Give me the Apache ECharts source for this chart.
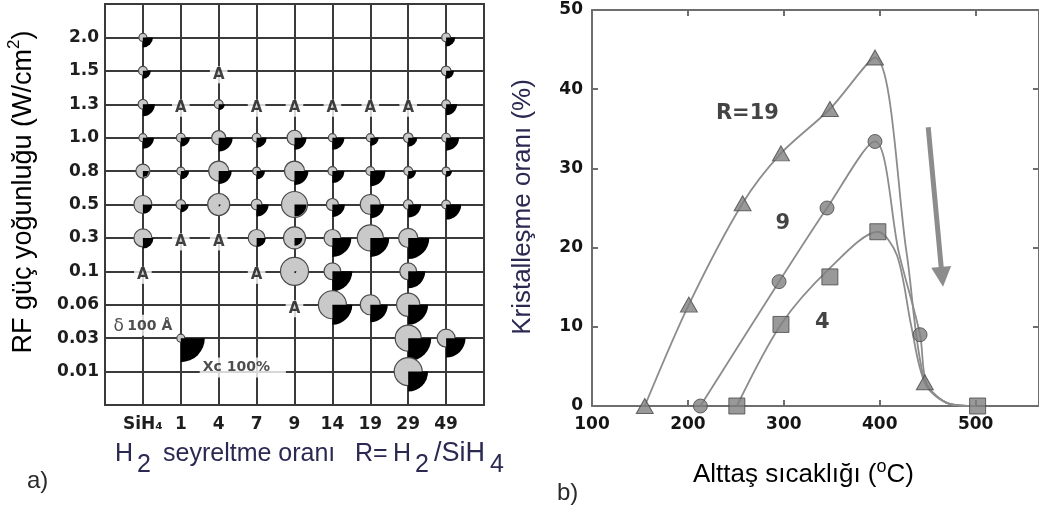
<!DOCTYPE html>
<html>
<head>
<meta charset="utf-8">
<script src="https://cdn.jsdelivr.net/npm/echarts@6/dist/echarts.min.js"></script>
<style>
  html, body { margin: 0; padding: 0; background: #fff; }
  #chart { width: 1039px; height: 508px; }
</style>
</head>
<body>
<div id="chart"></div>
<script>
// ---------- Panel a): phase map over H2 dilution ratio and RF power density ----------
const ratioLabels = ['SiH₄', '1', '4', '7', '9', '14', '19', '29', '49'];
const powerLabels = ['0.01', '0.03', '0.06', '0.1', '0.3', '0.5', '0.8', '1.0', '1.3', '1.5', '2.0'];

// [R, power density, grain size δ (Å), crystalline fraction Xc (%)]
const filmPoints = [
  ['SiH₄', '2.0', 100, 42], ['49', '2.0', 110, 38],
  ['SiH₄', '1.5', 110, 33], ['49', '1.5', 120, 33],
  ['SiH₄', '1.3', 120, 50], ['4', '1.3', 110, 25], ['49', '1.3', 110, 46],
  ['SiH₄', '1.0', 100, 46], ['1', '1.0', 110, 38], ['4', '1.0', 175, 58], ['7', '1.0', 110, 42],
  ['9', '1.0', 185, 50], ['14', '1.0', 100, 50], ['19', '1.0', 100, 35], ['29', '1.0', 120, 38], ['49', '1.0', 110, 54],
  ['SiH₄', '0.8', 175, 25], ['1', '0.8', 100, 35], ['4', '0.8', 250, 54], ['7', '0.8', 100, 35],
  ['9', '0.8', 250, 58], ['14', '0.8', 110, 50], ['19', '0.8', 110, 63], ['29', '0.8', 110, 33], ['49', '0.8', 100, 25],
  ['SiH₄', '0.5', 225, 38], ['1', '0.5', 120, 33], ['4', '0.5', 275, 8], ['7', '0.5', 135, 50],
  ['9', '0.5', 325, 50], ['14', '0.5', 150, 52], ['19', '0.5', 250, 58], ['29', '0.5', 120, 54], ['49', '0.5', 110, 63],
  ['SiH₄', '0.3', 225, 44], ['7', '0.3', 210, 38], ['9', '0.3', 275, 33], ['14', '0.3', 210, 79],
  ['19', '0.3', 325, 79], ['29', '0.3', 240, 88],
  ['9', '0.1', 350, 8], ['14', '0.1', 210, 83], ['29', '0.1', 210, 71],
  ['14', '0.06', 350, 83], ['19', '0.06', 250, 73], ['29', '0.06', 290, 83],
  ['1', '0.03', 100, 100], ['29', '0.03', 325, 96], ['49', '0.03', 225, 81],
  ['29', '0.01', 350, 83]
];

// Amorphous films (marked "A")
const amorphousPoints = [
  ['4', '1.5'], ['1', '1.3'], ['7', '1.3'], ['9', '1.3'], ['14', '1.3'], ['19', '1.3'], ['29', '1.3'],
  ['1', '0.3'], ['4', '0.3'], ['SiH₄', '0.1'], ['7', '0.1'], ['9', '0.06']
];

// ---------- Panel b): crystalline fraction vs substrate temperature ----------
const r19Markers = [[155, 0], [201, 12.8], [257, 25.6], [297, 31.9], [348, 37.5], [395, 44], [447, 3]];
const r9Markers  = [[213, 0], [295, 15.7], [345, 25], [395, 33.4], [442, 9]];
const r4Markers  = [[251, 0], [297, 10.3], [348, 16.3], [398, 22], [502, 0]];

const r19Curve = [[155, 0], [201, 12.8], [257, 25.6], [297, 31.9], [348, 37.5], [395, 44], [428, 19.3], [447, 3], [472, 0.3], [500, 0]];
const r9Curve  = [[213, 0], [295, 15.7], [345, 25], [395, 33.4], [420, 19.3], [442, 9], [449, 2.8], [472, 0.3], [500, 0]];
const r4Curve  = [[251, 0], [297, 10.3], [348, 17.4], [398, 22], [418, 19], [433, 10], [447, 3], [472, 0.3], [500, 0]];

const tempTicks = [100, 200, 300, 400, 500];

// ---------- shared styles ----------
const TITLE_COLOR = '#2b2952';
const TITLE_FONT = '"Liberation Sans", Arial, sans-serif';
const TICK_FONT = '"DejaVu Sans", sans-serif';
const GRID_COLOR = '#3a3a3a';
const AXIS_GRAY = '#6e6e6e';
const LINE_GRAY = '#8c8c8c';
const MARK_FILL = '#808080';
const MARK_EDGE = '#474747';

const colIndex = r => ratioLabels.indexOf(r) + 1;
const rowIndex = p => powerLabels.indexOf(p) + 1;

// plain text piece used to compose titles with sub/superscripts
const piece = (text, x, y, size) => ({
  type: 'text', x: x, y: y, silent: true,
  style: { text: text, align: 'left', verticalAlign: 'middle', font: size + 'px ' + TITLE_FONT, fill: TITLE_COLOR }
});

const chart = echarts.init(document.getElementById('chart'), null, { renderer: 'canvas' });

const option = {
  animation: false,
  backgroundColor: '#fff',
  grid: [
    { left: 105, top: 4, width: 379, height: 401, show: true, borderColor: GRID_COLOR, borderWidth: 2, backgroundColor: '#fff' },
    { left: 592, top: 10, right: -5, height: 396 }
  ],
  xAxis: [
    {
      gridIndex: 0, type: 'value', min: 0, max: 10, interval: 1,
      axisLine: { show: false }, axisTick: { show: false },
      splitLine: { show: true, lineStyle: { color: GRID_COLOR, width: 2 } },
      axisLabel: {
        margin: 11, color: '#1e1e1e', fontFamily: TICK_FONT, fontWeight: 'bold', fontSize: 17,
        formatter: v => ratioLabels[v - 1] || ''
      }
    },
    {
      gridIndex: 1, type: 'value', min: 100, max: 566, interval: 100,
      axisLine: { show: true, onZero: false, lineStyle: { color: AXIS_GRAY, width: 2 } },
      axisTick: { show: true, inside: true, length: 6, lineStyle: { color: AXIS_GRAY, width: 2 } },
      splitLine: { show: false },
      axisLabel: {
        showMaxLabel: false, margin: 10, color: '#151515',
        fontFamily: TICK_FONT, fontWeight: 'bold', fontSize: 17,
        formatter: v => tempTicks.indexOf(v) >= 0 ? String(v) : ''
      }
    },
    {
      gridIndex: 1, type: 'value', position: 'top', min: 100, max: 566, interval: 100,
      axisLine: { show: true, onZero: false, lineStyle: { color: AXIS_GRAY, width: 2 } },
      axisTick: { show: true, inside: true, length: 6, lineStyle: { color: AXIS_GRAY, width: 2 } },
      splitLine: { show: false }, axisLabel: { show: false }
    }
  ],
  yAxis: [
    {
      gridIndex: 0, type: 'value', min: 0, max: 12, interval: 1,
      axisLine: { show: false }, axisTick: { show: false },
      splitLine: { show: true, lineStyle: { color: GRID_COLOR, width: 2 } },
      axisLabel: {
        margin: 6, color: '#1e1e1e', fontFamily: TICK_FONT, fontWeight: 'bold', fontSize: 17,
        formatter: v => powerLabels[v - 1] || ''
      }
    },
    {
      gridIndex: 1, type: 'value', min: 0, max: 50, interval: 10,
      axisLine: { show: true, onZero: false, lineStyle: { color: AXIS_GRAY, width: 2 } },
      axisTick: { show: true, inside: true, length: 6, lineStyle: { color: AXIS_GRAY, width: 2 } },
      splitLine: { show: false },
      axisLabel: { margin: 9, color: '#151515', fontFamily: TICK_FONT, fontWeight: 'bold', fontSize: 17 }
    },
    {
      gridIndex: 1, type: 'value', position: 'right', min: 0, max: 50, interval: 10,
      axisLine: { show: true, onZero: false, lineStyle: { color: AXIS_GRAY, width: 2 } },
      axisTick: { show: true, inside: true, length: 6, lineStyle: { color: AXIS_GRAY, width: 2 } },
      splitLine: { show: false }, axisLabel: { show: false }
    }
  ],
  series: [
    // grain-size circles with crystalline-fraction quarter discs
    {
      type: 'custom', xAxisIndex: 0, yAxisIndex: 0, silent: true, z: 3,
      data: filmPoints.map(p => [colIndex(p[0]), rowIndex(p[1]), p[2], p[3]]),
      renderItem: (params, api) => {
        const c = api.coord([api.value(0), api.value(1)]);
        const rGrain = api.value(2) / 100 * 4;
        const rXc = api.value(3) / 100 * 24;
        return {
          type: 'group',
          children: [
            { type: 'circle', shape: { cx: c[0], cy: c[1], r: rGrain },
              style: { fill: '#c9c9c9', stroke: '#4a4a4a', lineWidth: 1.2 } },
            { type: 'sector', shape: { cx: c[0], cy: c[1], r0: 0, r: rXc, startAngle: 0, endAngle: Math.PI / 2, clockwise: true },
              style: { fill: '#000' } }
          ]
        };
      }
    },
    // amorphous markers
    {
      type: 'scatter', xAxisIndex: 0, yAxisIndex: 0, silent: true, z: 4,
      symbol: 'circle', symbolSize: 1, itemStyle: { color: 'rgba(0,0,0,0)' },
      data: amorphousPoints.map(p => [colIndex(p[0]), rowIndex(p[1])]),
      label: {
        show: true, position: 'inside', offset: [0, 4], formatter: 'A',
        fontFamily: TICK_FONT, fontWeight: 'bold', fontSize: 15, color: '#111',
        backgroundColor: '#fff', padding: [1, 3, 1, 3]
      }
    },
    // size/fraction key beside the reference point
    {
      type: 'scatter', xAxisIndex: 0, yAxisIndex: 0, silent: true, z: 4,
      symbol: 'circle', symbolSize: 1, itemStyle: { color: 'rgba(0,0,0,0)' },
      data: [
        { value: [colIndex('SiH₄'), rowIndex('0.03')],
          label: { formatter: '{d|δ} {b|100 Å}', offset: [0, -13], padding: [3, 5, 1, 5] } },
        { value: [colIndex('4'), rowIndex('0.01')],
          label: { formatter: '{b|Xc 100%}', position: 'inside', align: 'left', offset: [-19, -4], padding: [3, 16, 3, 3] } }
      ],
      label: {
        show: true, position: 'inside', backgroundColor: '#fff',
        rich: {
          d: { fontFamily: TICK_FONT, fontSize: 17, color: '#222' },
          b: { fontFamily: TICK_FONT, fontWeight: 'bold', fontSize: 14, color: '#222' }
        }
      }
    },

    // ----- panel b curves -----
    {
      type: 'line', xAxisIndex: 1, yAxisIndex: 1, silent: true, z: 2,
      data: r19Curve, showSymbol: false, smooth: 0.3,
      lineStyle: { color: LINE_GRAY, width: 1.8 }
    },
    {
      type: 'line', xAxisIndex: 1, yAxisIndex: 1, silent: true, z: 2,
      data: r9Curve, showSymbol: false, smooth: 0.3,
      lineStyle: { color: LINE_GRAY, width: 1.8 }
    },
    {
      type: 'line', xAxisIndex: 1, yAxisIndex: 1, silent: true, z: 2,
      data: r4Curve, showSymbol: false, smooth: 0.3,
      lineStyle: { color: LINE_GRAY, width: 1.8 },
      markLine: {
        silent: true, symbol: ['none', 'triangle'], symbolSize: 20,
        label: { show: false },
        lineStyle: { color: LINE_GRAY, width: 5, type: 'solid' },
        data: [[{ coord: [450.5, 35.2] }, { coord: [465, 16.3] }]]
      }
    },
    {
      type: 'scatter', xAxisIndex: 1, yAxisIndex: 1, silent: true, z: 5,
      data: r19Markers, symbol: 'triangle', symbolSize: [17, 15],
      itemStyle: { color: MARK_FILL, borderColor: MARK_EDGE, borderWidth: 1 }
    },
    {
      type: 'scatter', xAxisIndex: 1, yAxisIndex: 1, silent: true, z: 5,
      data: r9Markers, symbol: 'circle', symbolSize: 14,
      itemStyle: { color: MARK_FILL, borderColor: MARK_EDGE, borderWidth: 1 }
    },
    {
      type: 'scatter', xAxisIndex: 1, yAxisIndex: 1, silent: true, z: 5,
      data: r4Markers, symbol: 'rect', symbolSize: 16,
      itemStyle: { color: MARK_FILL, borderColor: MARK_EDGE, borderWidth: 1 }
    },
    // series names written next to the curves
    {
      type: 'scatter', xAxisIndex: 1, yAxisIndex: 1, silent: true, z: 6,
      symbol: 'circle', symbolSize: 1, itemStyle: { color: 'rgba(0,0,0,0)' },
      data: [
        { value: [262, 36.9], label: { formatter: 'R=19' } },
        { value: [299, 23.1], label: { formatter: '9' } },
        { value: [340, 10.6], label: { formatter: '4' } }
      ],
      label: { show: true, position: 'inside', fontFamily: TICK_FONT, fontWeight: 'bold', fontSize: 21, color: '#151515' }
    }
  ],
  graphic: [
    {
      type: 'text', x: 24, y: 192, rotation: Math.PI / 2, silent: true,
      style: {
        text: '{n|RF güç yoğunluğu (W/cm}{p|2}{n|)}',
        align: 'center', verticalAlign: 'middle',
        rich: {
          n: { fontFamily: TITLE_FONT, fontSize: 27, color: TITLE_COLOR, lineHeight: 36 },
          p: { fontFamily: TITLE_FONT, fontSize: 17, color: TITLE_COLOR, lineHeight: 14, verticalAlign: 'top' }
        }
      }
    },
    // H2 seyreltme oranı R= H2/SiH4 (subscripts set lower)
    piece('H', 115, 454, 25),
    piece('2', 137, 465, 25),
    piece('seyreltme oranı', 163, 454, 25),
    piece('R=', 355, 454, 25),
    piece('H', 393, 454, 25),
    piece('2', 415, 465, 25),
    piece('/SiH', 434, 454, 27),
    piece('4', 490, 465, 25),
    {
      type: 'text', x: 523, y: 207, rotation: Math.PI / 2, silent: true,
      style: {
        text: 'Kristalleşme oranı (%)',
        align: 'center', verticalAlign: 'middle',
        font: '26px ' + TITLE_FONT, fill: TITLE_COLOR
      }
    },
    {
      type: 'text', x: 693, y: 458, silent: true,
      style: {
        text: '{n|Alttaş sıcaklığı (}{p|o}{n|C)}',
        align: 'left', verticalAlign: 'top',
        rich: {
          n: { fontFamily: TITLE_FONT, fontSize: 26, color: TITLE_COLOR, lineHeight: 34 },
          p: { fontFamily: TITLE_FONT, fontSize: 18, color: TITLE_COLOR, lineHeight: 20, verticalAlign: 'top' }
        }
      }
    },
    {
      type: 'text', x: 27, y: 481, silent: true,
      style: { text: 'a)', align: 'left', verticalAlign: 'middle', font: '24px ' + TITLE_FONT, fill: '#2a2a2a' }
    },
    {
      type: 'text', x: 557, y: 493, silent: true,
      style: { text: 'b)', align: 'left', verticalAlign: 'middle', font: '24px ' + TITLE_FONT, fill: '#2a2a2a' }
    }
  ]
};

chart.setOption(option);
</script>
</body>
</html>
